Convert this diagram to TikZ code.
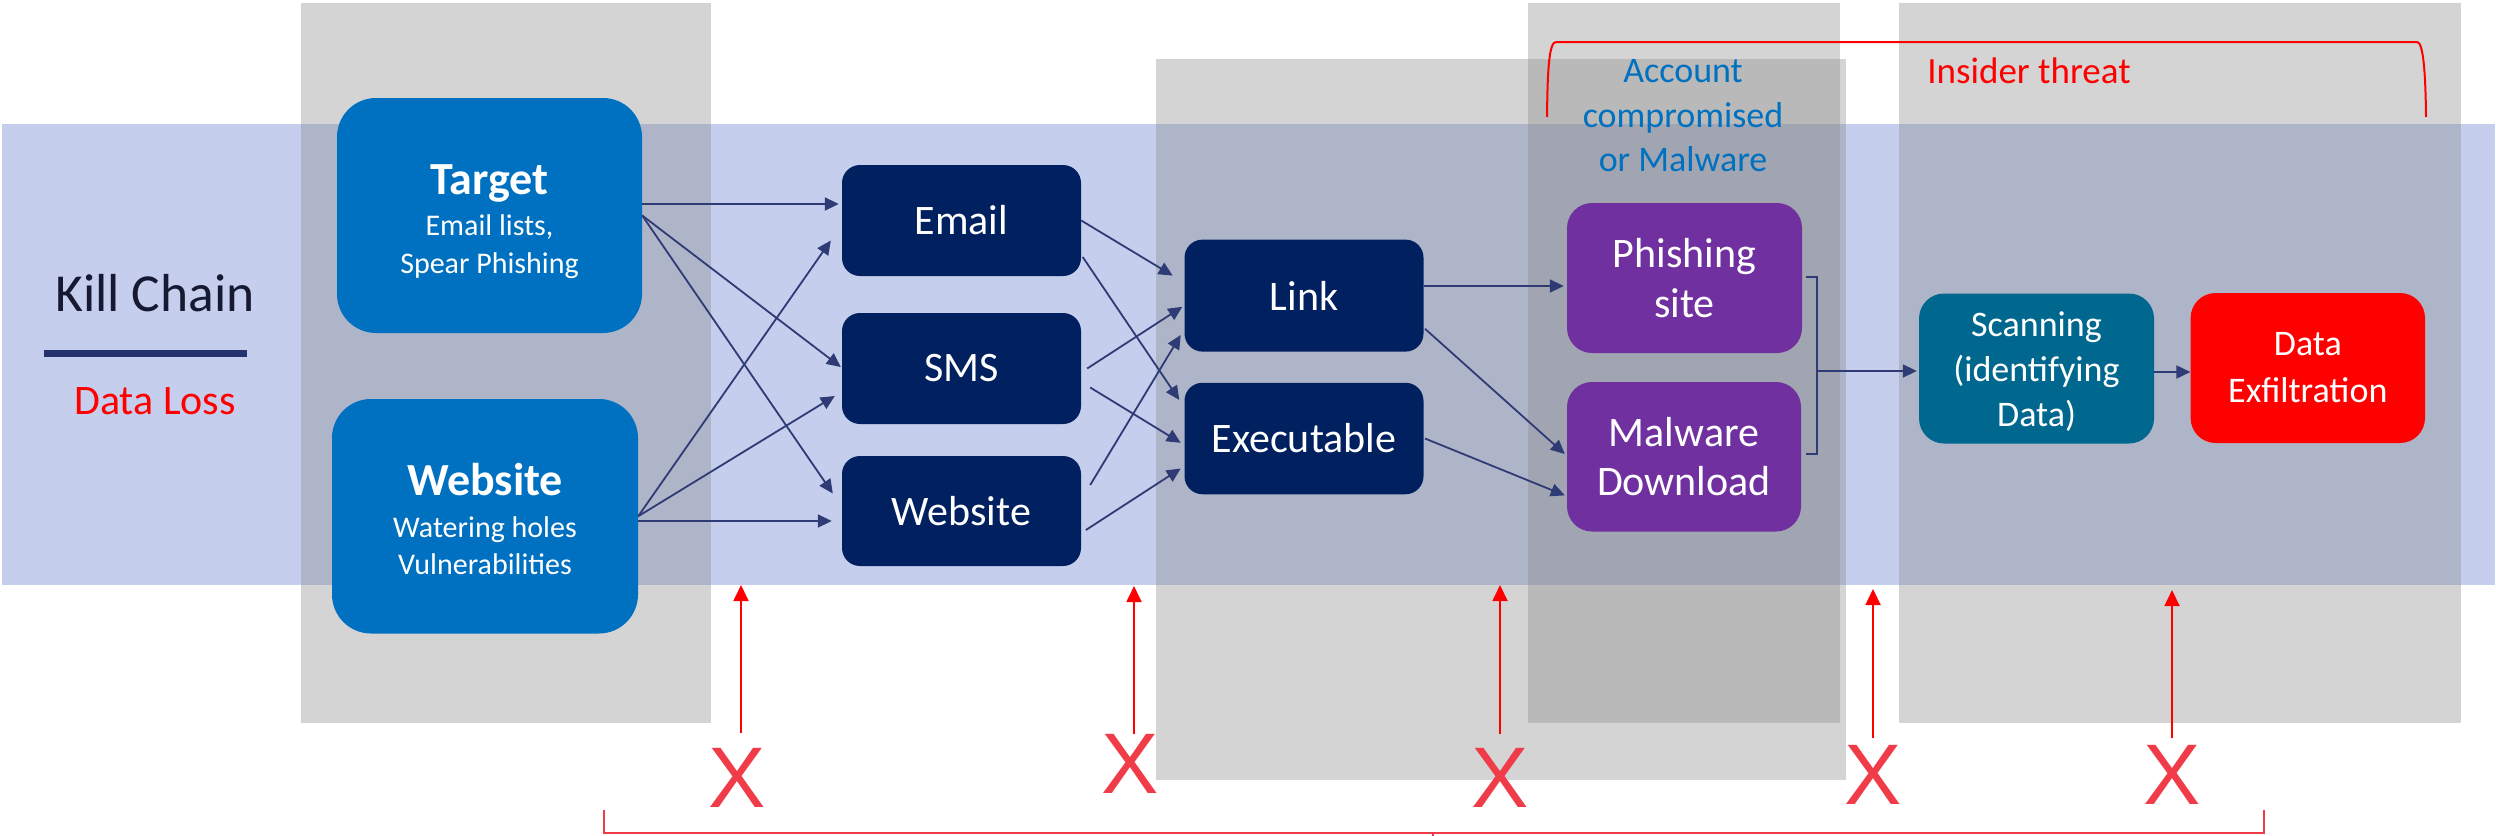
\documentclass[tikz,border=0pt]{standalone}
\usepackage{fontspec}
\setmainfont{Carlito}
\newfontfamily\xfont{Liberation Sans}
\usetikzlibrary{arrows.meta}
\definecolor{bandc}{RGB}{197,206,237}
\definecolor{colgray}{RGB}{140,140,140}
\definecolor{cnavy}{RGB}{0,32,96}
\definecolor{cblue}{RGB}{0,112,192}
\definecolor{cpurple}{RGB}{112,48,160}
\definecolor{cteal}{RGB}{0,104,143}
\definecolor{cred}{RGB}{255,0,0}
\definecolor{arrnavy}{RGB}{46,59,116}
\definecolor{kctext}{RGB}{22,25,50}
\definecolor{kcline}{RGB}{36,51,110}
\definecolor{xred}{RGB}{240,60,72}
\begin{document}
\begin{tikzpicture}[x=1pt,y=-1pt,
  colfill/.style={fill=colgray,fill opacity=0.372},
  boxn/.style={rectangle,text=white,inner sep=0pt,align=center},
  smallbox/.style={boxn,fill=cnavy,minimum width=239pt,minimum height=111pt,rounded corners=18pt,font=\fontsize{42}{50}\selectfont},
  midbox/.style={boxn,minimum width=235pt,minimum height=150pt,rounded corners=25pt},
  txt/.style={inner sep=0pt,align=center},
  xmark/.style={inner sep=0pt,text=xred,font=\xfont\fontsize{86}{86}\selectfont},
  navarr/.style={draw=arrnavy,line width=1.8pt,-{Triangle[length=14pt,width=13pt]}},
  redarr/.style={draw=cred,line width=1.8pt,-{Triangle[length=16pt,width=15pt]}},
  brk/.style={draw=arrnavy,line width=1.8pt},
  insb/.style={draw=cred,line width=2pt},
  botb/.style={draw=xred,line width=2.4pt}
]
\useasboundingbox (0,0) rectangle (2496,835);
% background band
\node[fill=bandc,minimum width=2493pt,minimum height=461pt,inner sep=0pt] (band) at (1248.5,354.05) {};
% gray columns
\fill[colfill] (301,3) rectangle (711,723);
\fill[colfill] (1156,59) rectangle (1846,780);
\fill[colfill] (1528,3) rectangle (1840,723);
\fill[colfill] (1899,3) rectangle (2461,723);
% left title
\node[txt,text=kctext,font=\fontsize{53.5}{60}\selectfont,anchor=base] (kc) at (155,311) {Kill Chain};
\fill[kcline] (44,350) rectangle (247,357);
\node[txt,text=cred,font=\fontsize{42}{48}\selectfont,anchor=base] (dl) at (155,414.6) {Data Loss};
% big boxes
\node[boxn,fill=cblue,minimum width=305pt,minimum height=235pt,rounded corners=39pt,font=\fontsize{30}{38}\selectfont] (target) at (489.5,215.5)
  {\rule{0pt}{42.6pt}{\fontsize{46}{46}\selectfont\bfseries Target}\\[3.5pt]Email lists,\\Spear Phishing};
\node[boxn,fill=cblue,minimum width=306pt,minimum height=234.5pt,rounded corners=39pt,font=\fontsize{30}{37}\selectfont] (wsite) at (485,516.25)
  {\rule{0pt}{37.3pt}{\fontsize{46}{46}\selectfont\bfseries Website}\\[4.5pt]Watering holes\\Vulnerabilities};
% vectors
\node[smallbox] (email) at (961.5,220.5) {Email};
\node[smallbox] (sms) at (961.5,368.5) {SMS};
\node[smallbox,minimum height=110pt] (web) at (961.5,511) {Website};
% payload
\node[smallbox,minimum height=112pt] (link) at (1304,295.6) {Link};
\node[smallbox,minimum height=111.5pt] (exe) at (1304,438.5) {Executable};
% outcomes
\node[midbox,fill=cpurple,font=\fontsize{42}{50}\selectfont] (phish) at (1684.5,278) {Phishing\\site};
\node[midbox,fill=cpurple,minimum width=234pt,minimum height=149.5pt,font=\fontsize{42}{49.5}\selectfont] (malw) at (1684,456.75) {Malware\\Download};
\node[midbox,fill=cteal,font=\fontsize{36}{45}\selectfont] (scan) at (2036.5,368.5) {\rule{0pt}{31.7pt}Scanning\\(identifying\\Data)};
\node[midbox,fill=cred,minimum width=234.4pt,font=\fontsize{36}{47}\selectfont] (exfil) at (2307.8,368) {Data\\Exfiltration};
% top labels
\node[txt,text=cblue,font=\fontsize{36}{44.5}\selectfont] (acc) at (1683,116) {Account\\compromised\\or Malware};
\node[txt,text=cred,font=\fontsize{37}{44}\selectfont,anchor=base] (ins) at (2029,83) {Insider threat};
\draw[insb] (1547,117) .. controls (1547.5,70) and (1549,42) .. (1556,42) -- (2417,42) .. controls (2423,42) and (2425.5,70) .. (2426,117);
% arrows
\draw[navarr] ([shift={(0,-11.5)}]target.east) -- ([shift={(-3,-16.5)}]email.west);
\draw[navarr] (target.east) -- ([shift={(-1,-1.5)}]sms.west);
\draw[navarr] (target.east) -- ([shift={(-9,-17.5)}]web.west);
\draw[navarr] (wsite.east) -- ([shift={(-11,20)}]email.west);
\draw[navarr] (wsite.east) -- ([shift={(-7,27.5)}]sms.west);
\draw[navarr] ([shift={(0,4.75)}]wsite.east) -- ([shift={(-10,10)}]web.west);
\draw[navarr] (email.east) -- ([shift={(-11.6,-20)}]link.west);
\draw[navarr] ([shift={(1.5,36.5)}]email.east) -- ([shift={(-5,-38.5)}]exe.west);
\draw[navarr] ([shift={(6,0)}]sms.east) -- ([shift={(-2,11.2)}]link.west);
\draw[navarr] ([shift={(9,19)}]sms.east) -- ([shift={(-3.6,4.3)}]exe.west);
\draw[navarr] ([shift={(9,-26)}]web.east) -- ([shift={(-3.6,39.4)}]link.west);
\draw[navarr] ([shift={(4.7,19)}]web.east) -- ([shift={(-3.6,30)}]exe.west);
\draw[navarr] ([shift={(0,-9.6)}]link.east) -- ([shift={(-3,8)}]phish.west);
\draw[navarr] ([shift={(1.3,33.2)}]link.east) -- ([shift={(-2,-2.75)}]malw.west);
\draw[navarr] ([shift={(1.3,0)}]exe.east) -- ([shift={(-2,38.6)}]malw.west);
% bracket joining outcomes
\draw[brk] (1806,276.7) -- (1817,276.7) -- (1817,454) -- (1806,454);
\coordinate (brkm) at (1817,371);
\draw[navarr] (brkm) -- ([shift={(-2,2.5)}]scan.west);
\draw[navarr] ([shift={(0,3.5)}]scan.east) -- ([shift={(0,4)}]exfil.west);
% X marks and red arrows
\node[xmark] (x1) at (737,778) {X};
\node[xmark] (x2) at (1130.6,764) {X};
\node[xmark] (x3) at (1500,777.5) {X};
\node[xmark] (x4) at (1873.4,775) {X};
\node[xmark] (x5) at (2172,775) {X};
\coordinate (t1) at (741,585);
\coordinate (t2) at (1134,586);
\coordinate (t3) at (1500,585);
\coordinate (t4) at (1873,589);
\coordinate (t5) at (2172,590);
\draw[redarr] ([shift={(4,-15)}]x1.north) -- (t1);
\draw[redarr] ([shift={(3.4,0)}]x2.north) -- (t2);
\draw[redarr] ([shift={(0,-13.7)}]x3.north) -- (t3);
\draw[redarr] ([shift={(-0.4,-7)}]x4.north) -- (t4);
\draw[redarr] ([shift={(0,-7)}]x5.north) -- (t5);
% bottom bracket
\draw[botb] (604,810) -- (604,833) -- (2264,833) -- (2264,810);
\draw[botb] (1433,833) -- (1433,836);
\end{tikzpicture}
\end{document}
